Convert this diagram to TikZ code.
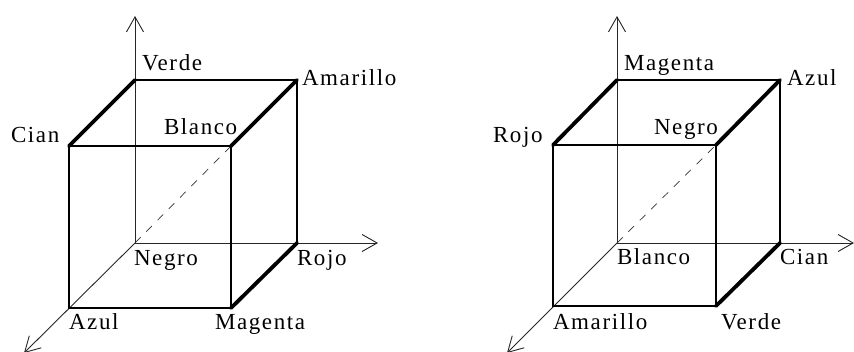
\documentclass[tikz,border=0pt]{standalone}
\usepackage{fontspec}
\setmainfont[LetterSpace=7]{Liberation Serif}
\usetikzlibrary{arrows.meta}
\tikzset{
  x=1pt,y=-1pt,
  lbl/.style={anchor=base west,inner sep=0pt,outer sep=0pt,font=\fontsize{23}{26}\selectfont},
  axisline/.style={line width=0.9pt,black!85,-{Straight Barb[length=15pt,width=17pt,line width=0.9pt]}},
  diag/.style={line width=0.7pt,black!80,dash pattern=on 8pt off 8pt},
  edgeline/.style={line width=2.6pt,line cap=butt,line join=miter},
  slant/.style={line width=3.8pt,line cap=round}
}
\begin{document}
\begin{tikzpicture}
\useasboundingbox (0,0) rectangle (854,352);
\clip (0,0) rectangle (854,352);
% left cube
\coordinate (lo) at (135,243);
\coordinate (lx) at (378,243);
\coordinate (ly) at (135,16);
\coordinate (lz) at (24,353);
\coordinate (lv) at (135,80);
\coordinate (la) at (297,80);
\coordinate (lr) at (297,243);
\coordinate (lc) at (69,146);
\coordinate (lb) at (231,146);
\coordinate (lz1) at (69,308);
\coordinate (lm) at (231,308);
\draw[axisline] (lo) -- (lx);
\draw[axisline] (lo) -- (ly);
\draw[axisline] (lo) -- (lz);
\draw[diag] (lo) -- (lb);
\draw[edgeline] (lv) -- (la) -- (lr);
\draw[edgeline] (lc) rectangle (lm);
\draw[slant] (lc) -- (lv);
\draw[slant] (lb) -- (la);
\draw[slant] (lm) -- (lr);
\node[lbl] (t1) at (142,70.5) {Verde};
\node[lbl] (t2) at (302,86) {Amarillo};
\node[lbl] (t3) at (11,142.5) {Cian};
\node[lbl] (t4) at (164,135) {Blanco};
\node[lbl] (t5) at (134,265.5) {Negro};
\node[lbl] (t6) at (297,265.5) {Rojo};
\node[lbl] (t7) at (69,330) {Azul};
\node[lbl] (t8) at (215,330) {Magenta};
% right cube
\coordinate (ro) at (617,243);
\coordinate (rx) at (854,243);
\coordinate (ry) at (617,16);
\coordinate (rz) at (507,353);
\coordinate (rv) at (617,80);
\coordinate (ra) at (780,80);
\coordinate (rr) at (780,243);
\coordinate (rc) at (553,145);
\coordinate (rb) at (716,145);
\coordinate (rz1) at (553,306);
\coordinate (rm) at (716,306);
\draw[axisline] (ro) -- (rx);
\draw[axisline] (ro) -- (ry);
\draw[axisline] (ro) -- (rz);
\draw[diag] (ro) -- (rb);
\draw[edgeline] (rv) -- (ra) -- (rr);
\draw[edgeline] (rc) rectangle (rm);
\draw[slant] (rc) -- (rv);
\draw[slant] (rb) -- (ra);
\draw[slant] (rm) -- (rr);
\node[lbl] (u1) at (624,70.5) {Magenta};
\node[lbl] (u2) at (787,86) {Azul};
\node[lbl] (u3) at (493,142.5) {Rojo};
\node[lbl] (u4) at (654,135) {Negro};
\node[lbl] (u5) at (617,265) {Blanco};
\node[lbl] (u6) at (780,265) {Cian};
\node[lbl] (u7) at (553,330) {Amarillo};
\node[lbl] (u8) at (721,330) {Verde};
\end{tikzpicture}
\end{document}
